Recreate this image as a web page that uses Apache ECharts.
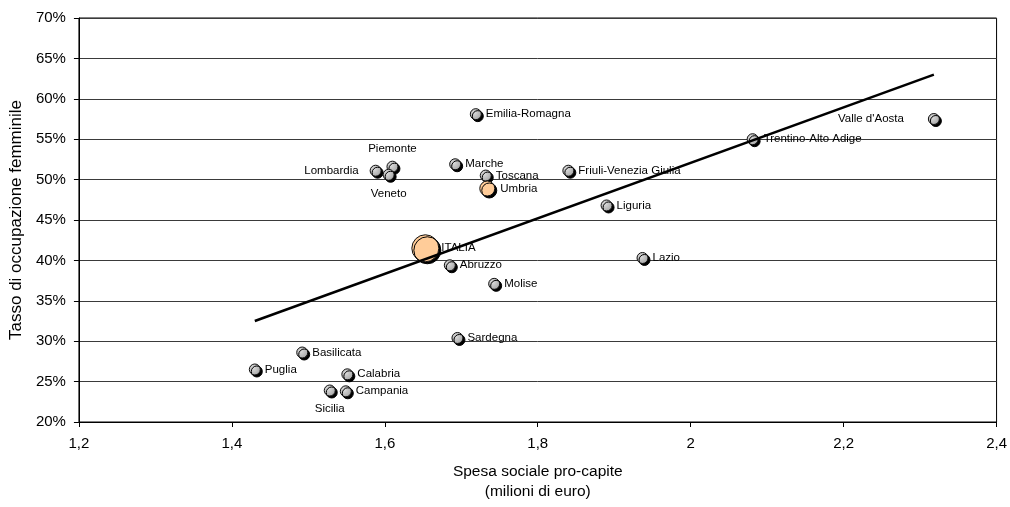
<!DOCTYPE html>
<html>
<head>
<meta charset="utf-8">
<script src="https://cdn.jsdelivr.net/npm/echarts@6/dist/echarts.min.js"></script>
<style>html,body{margin:0;padding:0;background:#fff}#c{width:1010px;height:507px}</style>
</head>
<body>
<div id="c"></div>
<script>
const regions = ["Emilia-Romagna","Lombardia","Piemonte","Veneto","Marche","Toscana","Umbria","Friuli-Venezia Giulia","Liguria","Trentino-Alto Adige","Valle d'Aosta","ITALIA","Abruzzo","Molise","Lazio","Sardegna","Basilicata","Puglia","Calabria","Sicilia","Campania"];
const spesa = [1.719,1.588,1.610,1.605,1.692,1.732,1.734,1.840,1.890,2.081,2.318,1.653,1.685,1.743,1.937,1.695,1.492,1.430,1.551,1.528,1.549];
const tasso = [58.1,51.1,51.6,50.6,51.9,50.5,48.9,51.1,46.8,55.0,57.5,41.5,39.4,37.1,40.3,30.4,28.6,26.5,25.9,23.9,23.8];
const trendX = [1.430, 2.318];
const trendY = [32.5, 63.0];
const xTicks = [1.2,1.4,1.6,1.8,2.0,2.2,2.4];
const yTicks = [20,25,30,35,40,45,50,55,60,65,70];

const FONT = "'Liberation Sans', Arial, sans-serif";
const labelCfg = {
  "Lombardia": {position:'left', distance:11, offset:[0,-11]},
  "Piemonte": {position:'top', distance:6, offset:[30,0]},
  "Veneto": {position:'bottom', distance:7, offset:[23,0]},
  "Umbria": {position:'right', distance:5, offset:[0,7]},
  "Trentino-Alto Adige": {position:'right', distance:5, offset:[0,17]},
  "Valle d'Aosta": {position:'left', distance:24, offset:[0,3]},
  "ITALIA": {position:'right', distance:2, offset:[0,0]},
  "Sicilia": {position:'bottom', distance:6, offset:[-20,0]},
  "Campania": {position:'right', distance:4, offset:[0,5]}
};
const grayFill = {type:'radial', x:0.38, y:0.38, r:0.65, colorStops:[{offset:0,color:'#dcdcdc'},{offset:1,color:'#a6a6a6'}]};
const orangeFill = '#FFCC99';

const pts = regions.map((n,i)=>{
  const big = n === 'ITALIA', umb = n === 'Umbria';
  const lc = labelCfg[n] || {position:'right', distance:4, offset:[0,0]};
  return {
    name: n,
    value: [spesa[i], tasso[i]],
    symbolSize: big ? 27 : (umb ? 15 : 11),
    itemStyle: {color: (big||umb) ? orangeFill : grayFill, opacity:1},
    label: {show:true, formatter:n, position:lc.position, distance:lc.distance, offset:lc.offset}
  };
});

const chart = echarts.init(document.getElementById('c'), null, {renderer:'canvas'});
chart.setOption({
  animation:false,
  backgroundColor:'#fff',
  grid:{left:78, right:10, top:18, bottom:82, show:true, borderColor:'#000', borderWidth:1, containLabel:false},
  xAxis:{
    type:'value', min:xTicks[0], max:xTicks[xTicks.length-1], interval:0.2,
    axisLine:{lineStyle:{color:'#000', width:1}},
    axisTick:{show:true, inside:false, length:5, lineStyle:{color:'#000'}},
    splitLine:{show:false},
    axisLabel:{color:'#000', fontFamily:FONT, fontSize:15, margin:14,
      formatter:v=>String(Math.round(v*10)/10).replace('.',',')},
    name:'Spesa sociale pro-capite\n(milioni di euro)', nameLocation:'middle', nameGap:40,
    nameTextStyle:{color:'#000', fontFamily:FONT, fontSize:15.5, lineHeight:20}
  },
  yAxis:{
    type:'value', min:yTicks[0], max:yTicks[yTicks.length-1], interval:5,
    axisLine:{show:true, lineStyle:{color:'#000', width:1}},
    axisTick:{show:true, inside:false, length:5, lineStyle:{color:'#000'}},
    splitLine:{show:true, lineStyle:{color:'#3a3a3a', width:1}},
    axisLabel:{color:'#000', fontFamily:FONT, fontSize:15, margin:13, formatter:'{value}%'},
    name:'Tasso di occupazione femminile', nameLocation:'middle', nameGap:52,
    nameTextStyle:{color:'#000', fontFamily:FONT, fontSize:17}
  },
  series:[
    {
      type:'scatter', z:2,
      data: pts,
      itemStyle:{opacity:1, borderColor:'#111', borderWidth:1, shadowColor:'#000', shadowOffsetX:2, shadowOffsetY:2, shadowBlur:0},
      label:{color:'#000', fontFamily:FONT, fontSize:11.5},
      labelLayout:{hideOverlap:false}
    },
    {
      type:'line', z:3, symbol:'none', silent:true,
      data: trendX.map((x,i)=>[x, trendY[i]]),
      lineStyle:{color:'#000', width:2.5}
    }
  ]
});
</script>
</body>
</html>
